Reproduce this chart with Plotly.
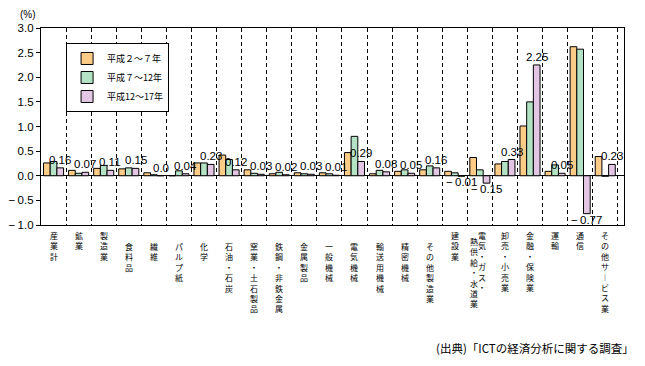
import plotly.graph_objects as go

categories = ["産業計", "鉱業", "製造業", "食料品", "繊維", "パルプ紙", "化学", "石油・石炭",
              "窯業・土石製品", "鉄鋼・非鉄金属", "金属製品", "一般機械", "電気機械", "輸送用機械",
              "精密機械", "その他製造業", "建設業", "電気・ガス・熱供給・水道業", "卸売・小売業",
              "金融・保険業", "運輸", "通信", "その他サービス業"]
# manufacturing sub-sectors (labels drawn a little lower)
sub_sectors = ["食料品", "繊維", "パルプ紙", "化学", "石油・石炭", "窯業・土石製品", "鉄鋼・非鉄金属",
               "金属製品", "一般機械", "電気機械", "輸送用機械", "精密機械", "その他製造業"]

series_names = ["平成２～７年", "平成７～12年", "平成12～17年"]
h2_7 = [0.26, 0.11, 0.15, 0.14, 0.06, 0.00, 0.26, 0.42, 0.12, 0.04, 0.06, 0.06, 0.47, 0.04,
        0.09, 0.12, 0.09, 0.37, 0.24, 1.01, 0.09, 2.62, 0.39]
h7_12 = [0.29, 0.05, 0.21, 0.16, 0.02, 0.10, 0.26, 0.33, 0.05, 0.07, 0.04, 0.04, 0.80, 0.11,
         0.12, 0.20, 0.06, 0.12, 0.29, 1.50, 0.22, 2.57, -0.01]
h12_17 = [0.16, 0.07, 0.11, 0.15, 0.00, 0.04, 0.23, 0.12, 0.03, 0.02, 0.03, 0.01, 0.29, 0.08,
          0.05, 0.16, -0.01, -0.15, 0.33, 2.25, 0.05, -0.77, 0.23]
h12_17_labels = ["0.16", "0.07", "0.11", "0.15", "0.0", "0.04", "0.23", "0.12", "0.03", "0.02",
                 "0.03", "0.01", "0.29", "0.08", "0.05", "0.16", "−\u20090.01", "−\u20090.15",
                 "0.33", "2.25", "0.05", "−\u20090.77", "0.23"]

y_tickvals = [3.0, 2.5, 2.0, 1.5, 1.0, 0.5, 0.0, -0.5, -1.0]
y_ticktext = ["3.0", "2.5", "2.0", "1.5", "1.0", "0.5", "0.0", "−\u20090.5", "−\u20091.0"]

colors = ["#FFCC88", "#B4E2C4", "#E2C6E4"]
FONT = "Noto Sans CJK JP"
NUMFONT = "Liberation Sans, Noto Sans CJK JP"

W, H = 637, 358
M = dict(l=33, r=21, t=20, b=141)
BARGAP = 0.2

fig = go.Figure()
for name, vals, col in zip(series_names, [h2_7, h7_12, h12_17], colors):
    fig.add_trace(go.Bar(x=categories, y=vals, name=name,
                         marker=dict(color=col, line=dict(color="black", width=1))))

# value labels for the last series, centred over its bar
cat_px = (W - M["l"] - M["r"]) / len(categories)
bar_offset = cat_px * (1 - BARGAP) / len(series_names)
annotations = []
for c, v, t in zip(categories, h12_17, h12_17_labels):
    annotations.append(dict(x=c, xref="x", y=v, yref="y", text=t, showarrow=False,
                            xanchor="center", yanchor="bottom" if v >= 0 else "top",
                            xshift=bar_offset, yshift=1, borderpad=0,
                            font=dict(size=11.5, family=NUMFONT, color="black")))

LBL_FONT = dict(size=8, family=FONT, color="black")


def vert(s):
    return "<br>".join("︱" if ch == "ー" else ch for ch in s)


for c in categories:
    if c == "電気・ガス・熱供給・水道業":
        annotations.append(dict(x=c, xref="x", y=0, yref="paper", xanchor="center", yanchor="top",
                                text=vert("電気・ガス・"), showarrow=False, borderpad=0,
                                xshift=2, yshift=-3.5, font=LBL_FONT))
        annotations.append(dict(x=c, xref="x", y=0, yref="paper", xanchor="center", yanchor="top",
                                text=vert("熱供給・水道業"), showarrow=False, borderpad=0,
                                xshift=-6, yshift=-10, font=LBL_FONT))
        continue
    annotations.append(dict(x=c, xref="x", y=0, yref="paper", xanchor="center", yanchor="top",
                            text=vert(c), showarrow=False, borderpad=0,
                            yshift=-15 if c in sub_sectors else -3.5, font=LBL_FONT))

annotations.append(dict(x=0, xref="paper", y=1, yref="paper", xanchor="center", yanchor="bottom",
                        xshift=-13, yshift=7, text="(%)", showarrow=False, borderpad=0,
                        font=dict(size=10, family=NUMFONT, color="black")))
annotations.append(dict(x=1.021, xref="paper", y=-0.625, yref="paper", xanchor="right",
                        yanchor="middle", text="(出典)「ICTの経済分析に関する調査」", showarrow=False,
                        font=dict(size=11.5, family=FONT, color="black")))

fig.update_layout(
    width=W, height=H,
    margin=M,
    paper_bgcolor="white", plot_bgcolor="white",
    barmode="group", bargap=BARGAP, bargroupgap=0,
    font=dict(family=FONT, size=11, color="black"),
    legend=dict(x=0.043, y=0.924, xanchor="left", yanchor="top", bgcolor="white",
                bordercolor="black", borderwidth=1, font=dict(size=9, family=FONT),
                tracegroupgap=0, itemwidth=30),
    annotations=annotations,
    showlegend=True,
)
fig.update_xaxes(type="category", tickson="boundaries", showgrid=True, griddash="4px,3px",
                 gridcolor="black", gridwidth=1, showticklabels=False, ticks="",
                 showline=True, linecolor="black", linewidth=1.2, mirror=True, automargin=False)
fig.update_yaxes(range=[-1.0, 3.0], tickvals=y_tickvals, ticktext=y_ticktext, ticks="outside",
                 ticklen=4, tickcolor="black", showgrid=False, zeroline=True,
                 zerolinecolor="black", zerolinewidth=1, showline=True, linecolor="black",
                 linewidth=1.2, mirror=True, tickfont=dict(size=11.5, family=NUMFONT),
                 automargin=False)

fig.write_html("out.html")
